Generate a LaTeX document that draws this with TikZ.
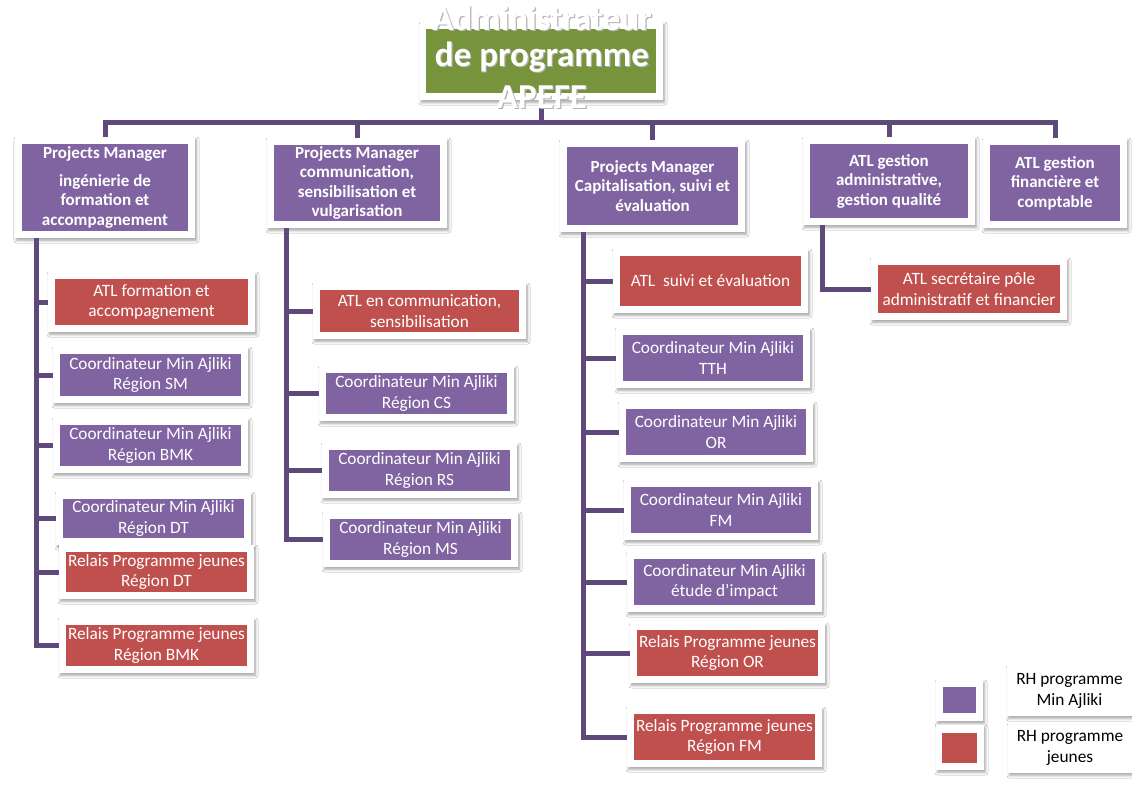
\documentclass[tikz,border=0pt]{standalone}
\usepackage{fontspec}
\setmainfont{Carlito}
\usetikzlibrary{fit,shadows.blur}
\definecolor{pur}{HTML}{8064A2}
\definecolor{rd}{HTML}{C0504D}
\definecolor{grn}{HTML}{77933C}
\definecolor{conc}{HTML}{5F497A}
\tikzset{
  outerbox/.style={fill=white, draw=none, inner sep=0pt,
    blur shadow={shadow xshift=1.5pt, shadow yshift=-2.5pt, shadow blur steps=6,
      shadow blur radius=2.5pt, shadow opacity=35}},
  innerbox/.style={draw=none, inner sep=0pt},
  txt/.style={text=white, align=center, inner sep=0pt, font=\fontsize{17.3}{20.5}\selectfont},
  hdr/.style={txt, font=\bfseries\fontsize{17}{19.5}\selectfont},
  lgtxt/.style={txt, text=black},
  roottxt/.style={inner sep=0pt, font=\bfseries\fontsize{35}{43}\selectfont},
  conn/.style={draw=conc, line width=5pt, line join=miter}
}
\newcommand\OrgBox[8]{%
  \node[outerbox, fit={(#2,#3)(#4,#5)}] (#1) {};
  \node[innerbox, fill=#6, fit={([shift={(7.5,7.5)}]#1.north west) ([shift={(-7.5,-7.5)}]#1.south east)}] (#1-in) {};
  \node[#7] (#1-t) at (#1-in) {#8};
}
\begin{document}
\begin{tikzpicture}[x=1pt,y=-1pt]
\useasboundingbox[fill=white] (0,0) rectangle (1132,788);

% ---------- boxes: level 0 and 1 ----------
\node[outerbox, fit={(420,22)(663,100)}] (root) {};
\node[innerbox, fill=grn, fit={(426,29)(656,93)}] (root-in) {};

\OrgBox{pm1}{15}{137}{195}{238}{pur}{hdr}{Projects Manager\\[8pt]ingénierie de\\formation et\\accompagnement}
\OrgBox{pm2}{267}{138}{447}{228}{pur}{hdr}{Projects Manager\\communication,\\sensibilisation et\\vulgarisation}
\OrgBox{pm3}{560}{140}{745}{232}{pur}{hdr}{Projects Manager\\Capitalisation, suivi et\\évaluation}
\OrgBox{atladm}{803}{137}{975}{225}{pur}{hdr}{ATL gestion\\administrative,\\gestion qualité}
\OrgBox{atlfin}{983}{138}{1127}{228}{pur}{hdr}{ATL gestion\\financière et\\comptable}

% ---------- connectors ----------
\coordinate (bus) at (542,122);
\draw[conn] (pm1.north) -- (pm1.north |- bus) -- (atlfin.north |- bus) -- (atlfin.north);
\draw[conn] (root.south) -- (root.south |- bus);
\draw[conn] (pm2.north) -- (pm2.north |- bus);
\draw[conn] (pm3.north) -- (pm3.north |- bus);
\draw[conn] (atladm.north) -- (atladm.north |- bus);

% ---------- column 1 ----------
\OrgBox{c1a}{48}{272}{255}{332}{rd}{txt}{ATL formation et\\accompagnement}
\OrgBox{c1b}{53}{347}{248}{403}{pur}{txt}{Coordinateur Min Ajliki\\Région SM}
\OrgBox{c1c}{53}{418}{248}{473}{pur}{txt}{Coordinateur Min Ajliki\\Région BMK}
\OrgBox{c1d}{56}{492}{251}{545}{pur}{txt}{Coordinateur Min Ajliki\\Région DT}
\OrgBox{c1e}{59}{545}{254}{599}{rd}{txt}{Relais Programme jeunes\\Région DT}
\OrgBox{c1f}{59}{618}{254}{673}{rd}{txt}{Relais Programme jeunes\\Région BMK}

% ---------- column 2 ----------
\OrgBox{c2a}{313}{283}{526}{339}{rd}{txt}{ATL en communication,\\sensibilisation}
\OrgBox{c2b}{319}{366}{514}{421}{pur}{txt}{Coordinateur Min Ajliki\\Région CS}
\OrgBox{c2c}{322}{443}{517}{498}{pur}{txt}{Coordinateur Min Ajliki\\Région RS}
\OrgBox{c2d}{323}{512}{518}{567}{pur}{txt}{Coordinateur Min Ajliki\\Région MS}

% ---------- column 3 ----------
\OrgBox{c3a}{613}{249}{808}{313}{rd}{txt}{ATL\ \ suivi et évaluation}
\OrgBox{c3b}{616}{328}{810}{388}{pur}{txt}{Coordinateur Min Ajliki\\TTH}
\OrgBox{c3c}{619}{402}{813}{462}{pur}{txt}{Coordinateur Min Ajliki\\OR}
\OrgBox{c3d}{624}{480}{818}{540}{pur}{txt}{Coordinateur Min Ajliki\\FM}
\OrgBox{c3e}{627}{552}{822}{612}{pur}{txt}{Coordinateur Min Ajliki\\étude d’impact}
\OrgBox{c3f}{630}{623}{825}{683}{rd}{txt}{Relais Programme jeunes\\Région OR}
\OrgBox{c3g}{627}{707}{822}{767}{rd}{txt}{Relais Programme jeunes\\Région FM}

% ---------- column 4 ----------
\OrgBox{c4a}{871}{258}{1067}{320}{rd}{txt}{ATL secrétaire pôle\\administratif et financier}

% ---------- branch connectors ----------
\foreach \c in {c1a,c1b,c1c,c1d,c1e,c1f}
  \draw[conn] ([xshift=22pt]pm1.south west) |- (\c.west);
\foreach \c in {c2a,c2b,c2c,c2d}
  \draw[conn] ([xshift=20pt]pm2.south west) |- (\c.west);
\foreach \c in {c3a,c3b,c3c,c3d,c3e,c3f,c3g}
  \draw[conn] ([xshift=24pt]pm3.south west) |- (\c.west);
\draw[conn] ([xshift=20pt]atladm.south west) |- (c4a.west);

% ---------- root text ----------
\foreach \t/\yy/\n in {Administrateur/30/a,de programme/66/b,APEFE/108/c}{
  \node[roottxt, text=black!30, anchor=base] (root-s\n) at (543.2,\yy+1.2) {\t};
  \node[roottxt, text=white, anchor=base] (root-t\n) at (542,\yy) {\t};
}

% ---------- legend ----------
\node[outerbox, fit={(936,680)(983,721)}] (sw1) {};
\node[innerbox, fill=pur, fit={(943,687)(976,713)}] (sw1-in) {};
\node[outerbox, fit={(936,725)(984,770)}] (sw2) {};
\node[innerbox, fill=rd, fit={(942,733)(977,763)}] (sw2-in) {};
\node[outerbox, fit={(1007,666)(1132,716)}] (lt1) {};
\node[lgtxt] (lt1-t) at (lt1) {RH programme\\Min Ajliki};
\node[outerbox, fit={(1008,723)(1132,773)}] (lt2) {};
\node[lgtxt] (lt2-t) at (lt2) {RH programme\\jeunes};
\end{tikzpicture}
\end{document}
